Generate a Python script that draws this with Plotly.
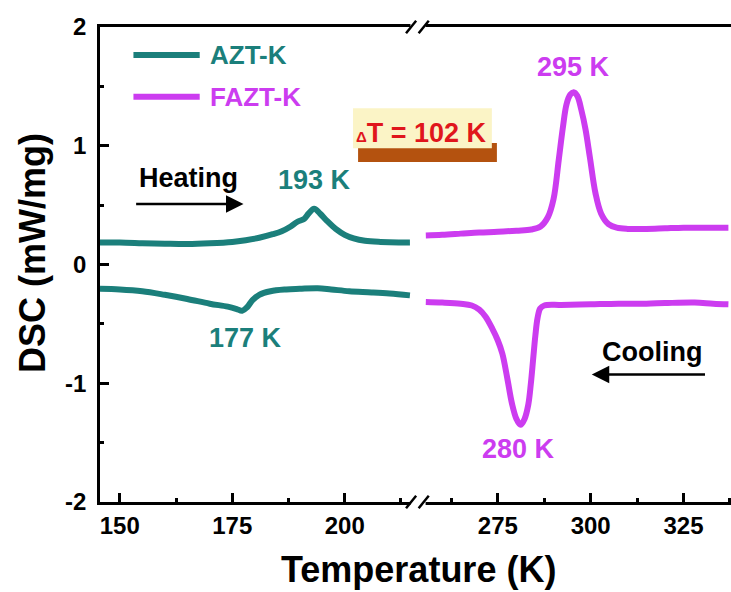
import plotly.graph_objects as go

# ---------------- data ----------------
azt_heat_T = [145.6, 150, 155, 160, 165, 170, 175, 178, 181, 184, 186, 188, 189.5, 191, 192, 193.2,
              194.5, 196, 198, 200, 202, 204.5, 208, 212, 214.5]
azt_heat_y = [0.185, 0.185, 0.18, 0.175, 0.172, 0.178, 0.19, 0.205, 0.225, 0.255, 0.28, 0.32, 0.36,
              0.385, 0.43, 0.47, 0.43, 0.37, 0.30, 0.25, 0.22, 0.20, 0.19, 0.185, 0.185]

azt_cool_T = [145.6, 150, 155, 160, 165, 170, 174, 176, 177.2, 178.3, 179.5, 181, 183.5, 187, 190,
              194, 197, 201, 206, 210, 214.5]
azt_cool_y = [-0.205, -0.21, -0.225, -0.255, -0.29, -0.33, -0.355, -0.375, -0.39, -0.36, -0.30, -0.255,
              -0.225, -0.21, -0.205, -0.20, -0.21, -0.225, -0.235, -0.245, -0.26]

fazt_heat_T = [255.6, 260, 265, 270, 275, 280, 284, 286.5, 288.5, 290, 291.4, 292.5, 293.5, 294.5,
               295.4, 296.4, 297.5, 298.6, 299.8, 301.3, 302.8, 304.8, 307, 310, 315, 320, 325, 330, 337.1]
fazt_heat_y = [0.245, 0.25, 0.26, 0.27, 0.275, 0.285, 0.295, 0.32, 0.40, 0.55, 0.88, 1.15, 1.35, 1.43,
               1.45, 1.42, 1.30, 1.14, 0.90, 0.60, 0.43, 0.34, 0.31, 0.30, 0.30, 0.305, 0.31, 0.31, 0.31]

fazt_cool_T = [255.6, 260, 265, 268, 270, 271.7, 273.5, 275, 276.2, 277.5, 278.8, 280, 281.1, 282.2,
               283.2, 283.9, 284.5, 285.1, 285.7, 286.4, 287.5, 292, 300, 307.5, 315, 320, 328, 333, 337.1]
fazt_cool_y = [-0.315, -0.32, -0.33, -0.345, -0.38, -0.44, -0.54, -0.64, -0.75, -0.95, -1.17, -1.30,
               -1.35, -1.30, -1.18, -1.00, -0.80, -0.60, -0.45, -0.37, -0.345, -0.34, -0.335, -0.33,
               -0.33, -0.325, -0.32, -0.33, -0.335]

left_ticks = [150, 175, 200]
right_ticks = [275, 300, 325]
y_ticks = [-2, -1, 0, 1, 2]
y_ticktext = ["-2", "-1", "0", "1", "2"]

TEAL = "#1B7F7B"
MAG = "#CC3CF0"
FONT = "Liberation Sans, Arial, sans-serif"

fig = go.Figure()
for T, y in [(azt_heat_T, azt_heat_y), (azt_cool_T, azt_cool_y)]:
    fig.add_trace(go.Scatter(x=T, y=y, mode="lines", line=dict(color=TEAL, width=6, shape="spline"),
                             xaxis="x", yaxis="y", showlegend=False))
for T, y in [(fazt_heat_T, fazt_heat_y), (fazt_cool_T, fazt_cool_y)]:
    fig.add_trace(go.Scatter(x=T, y=y, mode="lines", line=dict(color=MAG, width=6, shape="spline"),
                             xaxis="x2", yaxis="y", showlegend=False))

BRK = 0.504
tickfont = dict(family=FONT, size=24, color="black", weight="bold")
common_x = dict(showline=True, linecolor="black", linewidth=2.5, mirror=True, ticks="inside",
                ticklen=9, tickwidth=2.5, tickcolor="black", showgrid=False, zeroline=False,
                tickfont=tickfont, anchor="y")
fig.update_layout(
    width=731, height=592, autosize=False,
    margin=dict(l=100, r=0, t=27, b=90),
    paper_bgcolor="white", plot_bgcolor="white",
    xaxis=dict(domain=[0, BRK], range=[145.6, 216.3], tickvals=left_ticks,
               minor=dict(tickvals=[162.5, 187.5, 212.5], ticks="inside", ticklen=4,
                          tickwidth=2.5, tickcolor="black"), **common_x),
    xaxis2=dict(domain=[BRK, 1], range=[253.5, 337.8], tickvals=right_ticks,
                minor=dict(tickvals=[262.5, 287.5, 312.5, 337.5], ticks="inside", ticklen=4,
                           tickwidth=2.5, tickcolor="black"), **common_x),
    yaxis=dict(range=[-2, 2], tickvals=y_ticks, ticktext=y_ticktext, showline=True,
               linecolor="black", linewidth=2.5,
               ticks="inside", ticklen=9, tickwidth=2.5, tickcolor="black", showgrid=False,
               zeroline=False, tickfont=tickfont, ticklabelstandoff=6,
               minor=dict(tickvals=[-1.5, -0.5, 0.5, 1.5], ticks="inside", ticklen=4,
                          tickwidth=2.5, tickcolor="black")),
    showlegend=False,
)

shapes = []
# axis break marks (top and bottom)
for yb in [0, 1]:
    shapes.append(dict(type="rect", xref="paper", yref="paper", x0=BRK - 0.012, x1=BRK + 0.012,
                       y0=yb - 0.008, y1=yb + 0.008, fillcolor="white", line=dict(width=0),
                       layer="above"))
    for dx in [-0.011, 0.009]:
        shapes.append(dict(type="line", xref="paper", yref="paper", x0=BRK + dx - 0.008,
                           x1=BRK + dx + 0.008, y0=yb - 0.013, y1=yb + 0.013,
                           line=dict(color="black", width=2.5), layer="above"))
# delta T box with shadow
shapes.append(dict(type="rect", xref="paper", yref="paper", x0=0.409, x1=0.629, y0=0.716, y1=0.756,
                   fillcolor="#B4520F", line=dict(width=0)))
shapes.append(dict(type="rect", xref="paper", yref="paper", x0=0.401, x1=0.621, y0=0.745, y1=0.829,
                   fillcolor="#FBF4C6", line=dict(width=0)))
# legend lines
shapes.append(dict(type="line", xref="paper", yref="paper", x0=0.053, x1=0.158, y0=0.941, y1=0.941,
                   line=dict(color=TEAL, width=6)))
shapes.append(dict(type="line", xref="paper", yref="paper", x0=0.053, x1=0.158, y0=0.853, y1=0.853,
                   line=dict(color=MAG, width=6)))
fig.update_layout(shapes=shapes)

def txt(text, x, y, color, size=27, xref="x", yref="y", xanchor="center", **kw):
    fig.add_annotation(text=text, x=x, y=y, xref=xref, yref=yref, showarrow=False,
                       xanchor=xanchor, yanchor="middle",
                       font=dict(family=FONT, size=size, color=color, weight="bold"), **kw)

txt("AZT-K", 0.171, 0.941, TEAL, 26, "paper", "paper", xanchor="left")
txt("FAZT-K", 0.171, 0.853, MAG, 26, "paper", "paper", xanchor="left")
txt("193 K", 193.2, 0.71, TEAL)
txt("177 K", 178.0, -0.62, TEAL)
txt("295 K", 295.4, 1.66, MAG, xref="x2")
txt("280 K", 280.6, -1.55, MAG, xref="x2")
txt("Heating", 165.2, 0.73, "black")
txt("Cooling", 316.4, -0.74, "black", xref="x2")
txt("<span style='font-size:15px'>Δ</span>T = 102 K", 0.509, 0.777, "#E0161C", 27, "paper", "paper")

fig.add_annotation(x=177.5, y=0.51, ax=153.3, ay=0.51, xref="x", yref="y", axref="x", ayref="y",
                   text="", showarrow=True, arrowhead=2, arrowsize=1.4, arrowwidth=2.5,
                   arrowcolor="black")
fig.add_annotation(x=300.3, y=-0.926, ax=331.2, ay=-0.926, xref="x2", yref="y", axref="x2",
                   ayref="y", text="", showarrow=True, arrowhead=2, arrowsize=1.4, arrowwidth=2.5,
                   arrowcolor="black")

txt("Temperature (K)", 0.5055, -0.143, "black", 36, "paper", "paper")
txt("DSC (mW/mg)", -0.108, 0.524, "black", 36, "paper", "paper", textangle=-90)

fig.write_html("out.html")
